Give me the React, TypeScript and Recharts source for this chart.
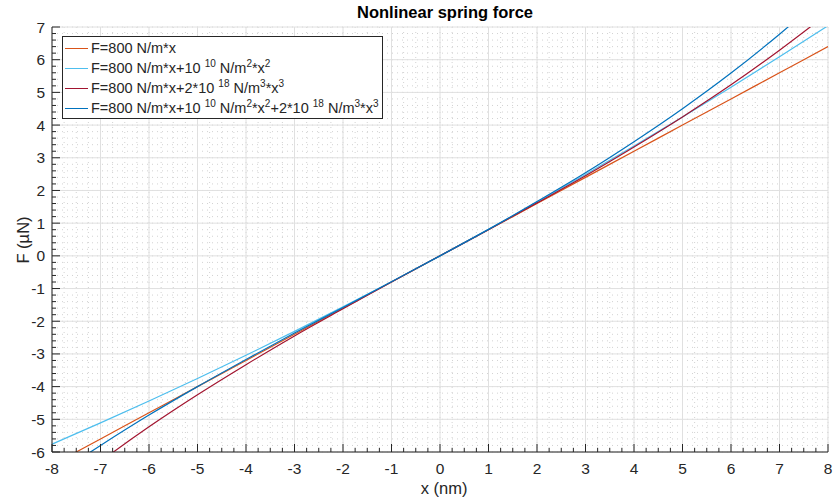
import React from "react";
import { LineChart, Line, XAxis, YAxis, CartesianGrid, Legend } from "recharts";

// displacement (nm) and force (µN)
const xNm = [-8, -7, -6, -5, -4, -3, -2, -1, 0, 1, 2, 3, 4, 5, 6, 7, 8];
const forceLinear = [-6.4, -5.6, -4.8, -4.0, -3.2, -2.4, -1.6, -0.8, 0, 0.8, 1.6, 2.4, 3.2, 4.0, 4.8, 5.6, 6.4];
const forceQuadratic = [-5.76, -5.11, -4.44, -3.75, -3.04, -2.31, -1.56, -0.79, 0, 0.81, 1.64, 2.49, 3.36, 4.25, 5.16, 6.09, 7.04];
const forceCubic = [-7.42, -6.29, -5.23, -4.25, -3.33, -2.45, -1.62, -0.8, 0, 0.8, 1.62, 2.45, 3.33, 4.25, 5.23, 6.29, 7.42];
const forceFull = [-6.78, -5.8, -4.87, -4.0, -3.17, -2.36, -1.58, -0.79, 0, 0.81, 1.66, 2.54, 3.49, 4.5, 5.59, 6.78, 8.06];

const xTicks = [-8, -7, -6, -5, -4, -3, -2, -1, 0, 1, 2, 3, 4, 5, 6, 7, 8];
const yTicks = [-6, -5, -4, -3, -2, -1, 0, 1, 2, 3, 4, 5, 6, 7];

const data = xNm.map((x, i) => ({
  x,
  lin: forceLinear[i],
  quad: forceQuadratic[i],
  cub: forceCubic[i],
  full: forceFull[i],
}));

// minor subdivisions like matlab (4 per unit on x, 5 per unit on y)
const xMinor: number[] = [];
for (let i = -32; i <= 32; i++) xMinor.push(i / 4);
const yMinor: number[] = [];
for (let i = -30; i <= 35; i++) yMinor.push(i / 5);

const ORANGE = "#D95319";
const LIGHTBLUE = "#4DBEEE";
const DARKRED = "#A2142F";
const BLUE = "#0072BD";
const INK = "#262626";
const FONT = "'Liberation Sans', Arial, sans-serif";

const isMajorX = (v: number) => xTicks.includes(v);
const isMajorY = (v: number) => yTicks.includes(v);

function BottomTick(props: any) {
  const { x, y, payload } = props;
  const major = isMajorX(payload.value);
  return (
    <g>
      <line x1={x} x2={x} y1={y} y2={y - (major ? 8 : 4)} stroke={INK} strokeWidth={1} />
      {major && (
        <text x={x} y={y + 22} textAnchor="middle" fill={INK} fontSize={15.5} fontFamily={FONT}>
          {payload.value}
        </text>
      )}
    </g>
  );
}

function TopTick(props: any) {
  const { x, y, payload } = props;
  const major = isMajorX(payload.value);
  return <line x1={x} x2={x} y1={y} y2={y + (major ? 8 : 4)} stroke={INK} strokeWidth={1} />;
}

function LeftTick(props: any) {
  const { x, y, payload } = props;
  const major = isMajorY(payload.value);
  return (
    <g>
      <line x1={x} x2={x + (major ? 8 : 4)} y1={y} y2={y} stroke={INK} strokeWidth={1} />
      {major && (
        <text x={x - 7} y={y + 5.5} textAnchor="end" fill={INK} fontSize={15.5} fontFamily={FONT}>
          {payload.value}
        </text>
      )}
    </g>
  );
}

function RightTick(props: any) {
  const { x, y, payload } = props;
  const major = isMajorY(payload.value);
  return <line x1={x} x2={x - (major ? 8 : 4)} y1={y} y2={y} stroke={INK} strokeWidth={1} />;
}

const supStyle: React.CSSProperties = { fontSize: 10, verticalAlign: "super", lineHeight: 0 };

const legendRows = [
  { color: ORANGE, label: <>F=800 N/m*x</> },
  { color: LIGHTBLUE, label: <>F=800 N/m*x+10 <span style={supStyle}>10</span> N/m<span style={supStyle}>2</span>*x<span style={supStyle}>2</span></> },
  { color: DARKRED, label: <>F=800 N/m*x+2*10 <span style={supStyle}>18</span> N/m<span style={supStyle}>3</span>*x<span style={supStyle}>3</span></> },
  {
    color: BLUE,
    label: (
      <>
        F=800 N/m*x+10 <span style={supStyle}>10</span> N/m<span style={supStyle}>2</span>*x<span style={supStyle}>2</span>+2*10{" "}
        <span style={supStyle}>18</span> N/m<span style={supStyle}>3</span>*x<span style={supStyle}>3</span>
      </>
    ),
  },
];

function SpringLegend() {
  return (
    <div
      style={{
        width: 319,
        height: 80,
        border: `1px solid ${INK}`,
        background: "#fff",
        fontFamily: FONT,
        fontSize: 14.5,
        color: INK,
        paddingTop: 1,
        boxSizing: "content-box",
      }}
    >
      {legendRows.map((r, i) => (
        <div key={i} style={{ height: 20, display: "flex", alignItems: "center", whiteSpace: "nowrap" }}>
          <div style={{ width: 23, height: 0, borderTop: `1.5px solid ${r.color}`, marginLeft: 2, marginRight: 3 }} />
          <span>{r.label}</span>
        </div>
      ))}
    </div>
  );
}

export default function App() {
  return (
    <div style={{ position: "absolute", left: 0, top: 0, width: 835, height: 501, background: "#fff" }}>
      <div
        style={{
          position: "absolute", left: 0, top: 3, width: 890, textAlign: "center",
          fontFamily: FONT, fontWeight: "bold", fontSize: 16.5, color: "#000",
        }}
      >
        Nonlinear spring force
      </div>
      <div
        style={{
          position: "absolute", left: 0, top: 479, width: 888, textAlign: "center",
          fontFamily: FONT, fontSize: 16.5, color: INK,
        }}
      >
        x (nm)
      </div>
      <div
        style={{
          position: "absolute", left: 23, top: 240, transform: "translate(-50%, -50%) rotate(-90deg)",
          fontFamily: FONT, fontSize: 16.5, color: INK, whiteSpace: "nowrap",
        }}
      >
        F (µN)
      </div>
      <LineChart
        width={835}
        height={501}
        data={data}
        margin={{ top: 27, right: 7, bottom: 9, left: 7 }}
        style={{ position: "absolute", left: 0, top: 0 }}
      >
        <CartesianGrid
          horizontalValues={yMinor}
          verticalValues={xMinor}
          stroke="#d2d2d2"
          strokeDasharray="1 4"
        />
        <CartesianGrid horizontalValues={yTicks} verticalValues={xTicks} stroke="#e0e0e0" />
        <XAxis
          dataKey="x"
          type="number"
          domain={[-8, 8]}
          ticks={xMinor}
          interval={0}
          height={40}
          tickSize={0}
          tickMargin={0}
          tickLine={false}
          tick={<BottomTick />}
          axisLine={{ stroke: INK }}
          allowDataOverflow
        />
        <XAxis
          xAxisId="top"
          orientation="top"
          type="number"
          domain={[-8, 8]}
          ticks={xMinor}
          interval={0}
          height={0}
          tickSize={0}
          tickMargin={0}
          tickLine={false}
          tick={<TopTick />}
          axisLine={{ stroke: INK }}
          allowDataOverflow
        />
        <YAxis
          type="number"
          domain={[-6, 7]}
          ticks={yMinor}
          interval={0}
          width={45}
          tickSize={0}
          tickMargin={0}
          tickLine={false}
          tick={<LeftTick />}
          axisLine={{ stroke: INK }}
          allowDataOverflow
        />
        <YAxis
          yAxisId="right"
          orientation="right"
          type="number"
          domain={[-6, 7]}
          ticks={yMinor}
          interval={0}
          width={0}
          tickSize={0}
          tickMargin={0}
          tickLine={false}
          tick={<RightTick />}
          axisLine={{ stroke: INK }}
          allowDataOverflow
        />
        <Legend
          layout="vertical"
          align="center"
          verticalAlign="middle"
          wrapperStyle={{ left: 62, top: 36, width: "auto" }}
          content={<SpringLegend />}
        />
        <Line type="monotone" dataKey="lin" stroke={ORANGE} strokeWidth={1.2} dot={false} isAnimationActive={false} />
        <Line type="monotone" dataKey="quad" stroke={LIGHTBLUE} strokeWidth={1.2} dot={false} isAnimationActive={false} />
        <Line type="monotone" dataKey="cub" stroke={DARKRED} strokeWidth={1.2} dot={false} isAnimationActive={false} />
        <Line type="monotone" dataKey="full" stroke={BLUE} strokeWidth={1.2} dot={false} isAnimationActive={false} />
      </LineChart>
    </div>
  );
}
